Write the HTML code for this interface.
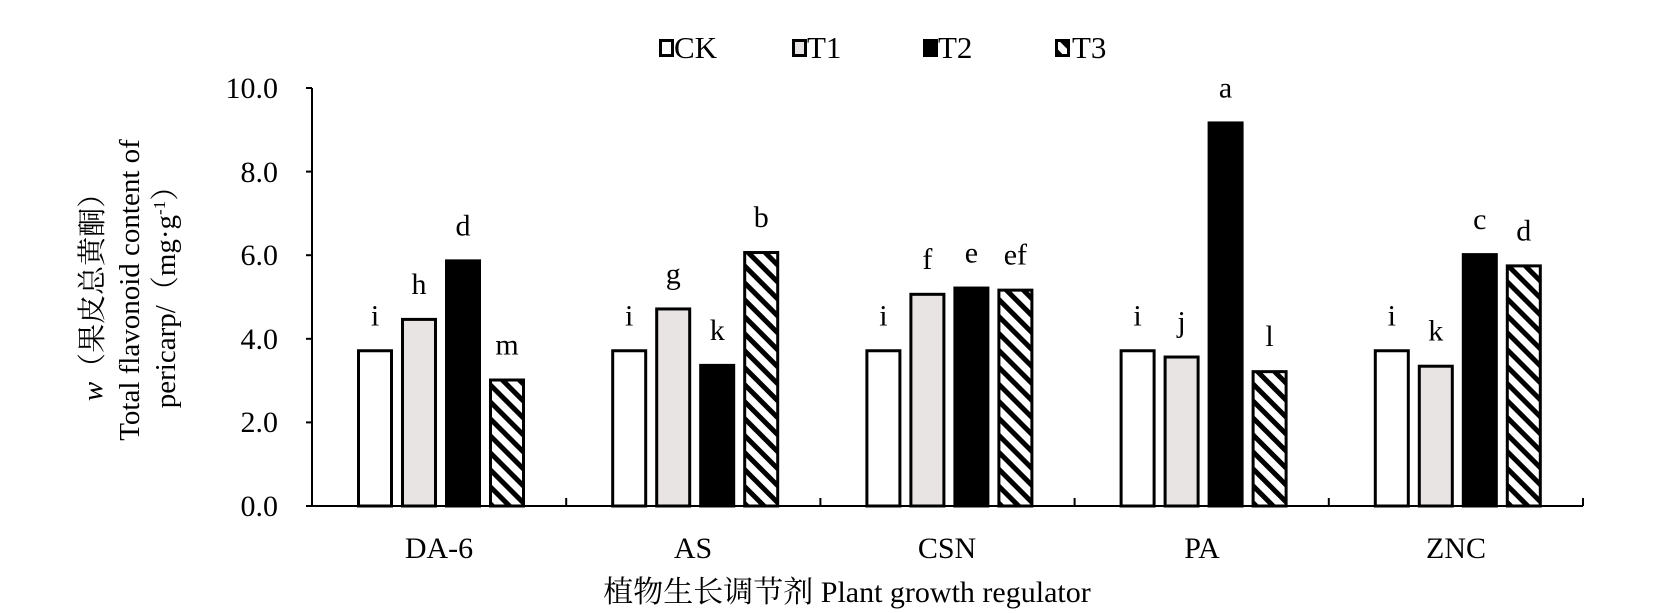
<!DOCTYPE html>
<html><head><meta charset="utf-8"><style>body{margin:0;background:#fff}svg{display:block}text{font-family:"Liberation Serif","Noto Serif CJK SC",serif;fill:#000}</style></head>
<body>
<svg width="1667" height="613" viewBox="0 0 1667 613" xmlns="http://www.w3.org/2000/svg">
<defs>
<pattern id="h" patternUnits="userSpaceOnUse" width="12" height="12" patternTransform="rotate(-45)">
<rect width="12" height="12" fill="#fff"/><rect x="0" y="0" width="5" height="12" fill="#000"/>
</pattern>
</defs>
<g font-size="31">
<rect x="660.5" y="40.5" width="12" height="15" fill="#fff" stroke="#000" stroke-width="3"/><text x="674" y="58">CK</text>
<rect x="793.5" y="40.5" width="12" height="15" fill="#e8e4e4" stroke="#000" stroke-width="3"/><text x="807" y="58">T1</text>
<rect x="924.5" y="40.5" width="12" height="15" fill="#000" stroke="#000" stroke-width="3"/><text x="938" y="58">T2</text>
<rect x="1056.5" y="40.5" width="12" height="15" fill="url(#h)" stroke="#000" stroke-width="3"/><text x="1072" y="58">T3</text>
</g>
<g stroke="#000" stroke-width="2" fill="none">
<line x1="312" y1="88" x2="312" y2="507"/>
<line x1="311" y1="506" x2="1583" y2="506"/>
<line x1="306" y1="88" x2="312" y2="88"/><line x1="306" y1="171.6" x2="312" y2="171.6"/><line x1="306" y1="255.2" x2="312" y2="255.2"/><line x1="306" y1="338.8" x2="312" y2="338.8"/><line x1="306" y1="422.4" x2="312" y2="422.4"/><line x1="306" y1="506" x2="312" y2="506"/>
<line x1="566.2" y1="506" x2="566.2" y2="498"/><line x1="820.4" y1="506" x2="820.4" y2="498"/><line x1="1074.6" y1="506" x2="1074.6" y2="498"/><line x1="1328.8" y1="506" x2="1328.8" y2="498"/><line x1="1583" y1="506" x2="1583" y2="498"/>
</g>
<g font-size="30" text-anchor="end">
<text x="278" y="98">10.0</text><text x="278" y="182">8.0</text><text x="278" y="265">6.0</text><text x="278" y="349">4.0</text><text x="278" y="432">2.0</text><text x="278" y="516">0.0</text>
</g>
<g font-size="30" text-anchor="middle">
<text x="439" y="558">DA-6</text><text x="693" y="558">AS</text><text x="947" y="558">CSN</text><text x="1202" y="558">PA</text><text x="1456" y="558">ZNC</text>
<text x="847" y="602">植物生长调节剂 Plant growth regulator</text>
</g>
<g font-size="29" text-anchor="middle">
<text transform="translate(102,290) rotate(-90)"><tspan font-style="italic">w</tspan>（果皮总黄酮）</text>
<text transform="translate(139,290) rotate(-90)">Total flavonoid content of</text>
<text transform="translate(175,290) rotate(-90)">pericarp/（mg·g<tspan font-size="17" dy="-10">-1</tspan><tspan dy="10">）</tspan></text>
</g>
<g id="bars" stroke="#000" stroke-width="3"></g>
<g id="lbl" font-size="30" text-anchor="middle"></g>
<script>
var d=[[3.75,4.5,5.9,3.05],[3.75,4.75,3.4,6.1],[3.75,5.1,5.25,5.2],[3.75,3.6,9.2,3.25],[3.75,3.38,6.05,5.78]];
var L=[["i","h","d","m"],["i","g","k","b"],["i","f","e","ef"],["i","j","a","l"],["i","k","c","d"]];
var fills=["#fff","#e8e4e4","#000","url(#h)"];
var b=document.getElementById("bars"),l=document.getElementById("lbl"),ns="http://www.w3.org/2000/svg";
for(var g=0;g<5;g++)for(var s=0;s<4;s++){
 var x=312+g*254.2+45+s*44,h=d[g][s]*41.8,y=506-h;
 var r=document.createElementNS(ns,"rect");
 r.setAttribute("x",x+1.5);r.setAttribute("y",y+1.5);r.setAttribute("width",33);r.setAttribute("height",h-1.5);r.setAttribute("fill",fills[s]);
 b.appendChild(r);
 var t=document.createElementNS(ns,"text");t.setAttribute("x",x+18);t.setAttribute("y",y-24);t.textContent=L[g][s];l.appendChild(t);
}
</script>
</svg>
</body></html>
